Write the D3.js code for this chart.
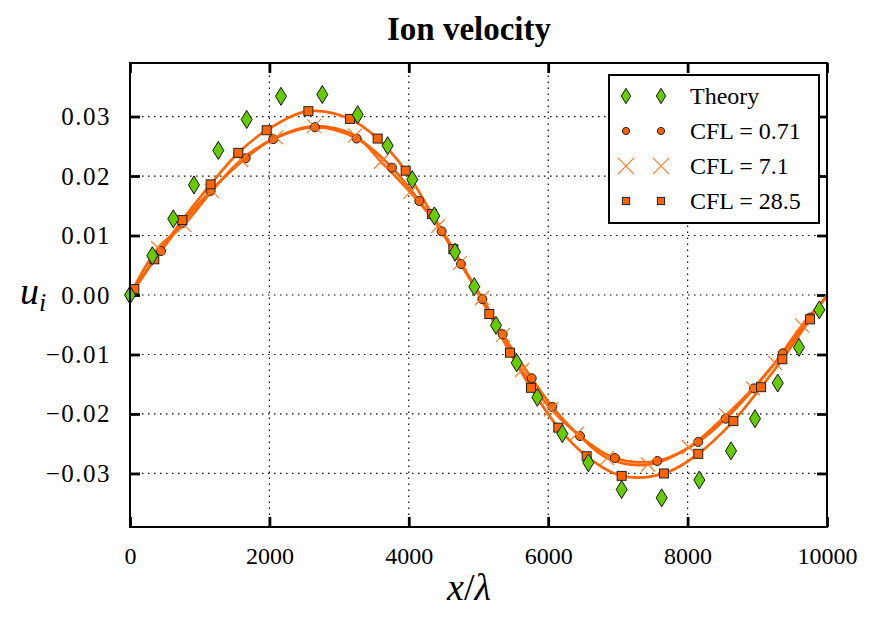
<!DOCTYPE html>
<html>
<head>
<meta charset="utf-8">
<script src="https://cdnjs.cloudflare.com/ajax/libs/d3/7.8.5/d3.min.js"></script>
<style>
  body { margin: 0; background: #fff; }
  svg { display: block; font-family: "Liberation Serif", "DejaVu Serif", serif; }
</style>
</head>
<body>
<script>
// values
var theoryX = [0, 320, 621, 918, 1267, 1674, 2166, 2759, 3267, 3697, 4050, 4366, 4663, 4940, 5251, 5548, 5844, 6203, 6576, 7054, 7628, 8168, 8623, 8967, 9293, 9598, 9890];
var theoryU = [0.0000, 0.0066, 0.0128, 0.0185, 0.0243, 0.0295, 0.0334, 0.0337, 0.0303, 0.0251, 0.0194, 0.0133, 0.0072, 0.0014, -0.0051, -0.0114, -0.0172, -0.0233, -0.0282, -0.0327, -0.0341, -0.0311, -0.0262, -0.0208, -0.0148, -0.0088, -0.0025];

var cfl071X = [0, 445, 751, 1157, 1660, 2056, 2654, 3252, 3759, 4151, 4472, 4749, 5055, 5347, 5763, 6059, 6456, 6958, 7565, 8153, 8546, 8953, 9364, 9756, 10000];
var cfl071U = [0.0000, 0.0074, 0.0121, 0.0175, 0.0230, 0.0262, 0.0282, 0.0263, 0.0214, 0.0158, 0.0107, 0.0052, -0.0007, -0.0066, -0.0140, -0.0188, -0.0237, -0.0274, -0.0279, -0.0247, -0.0208, -0.0157, -0.0098, -0.0038, -0.0002];

var cfl71X = [0, 402, 775, 1176, 1593, 2095, 2640, 3228, 3601, 4017, 4420, 4735, 5050, 5352, 5624, 6040, 6413, 6844, 7432, 8020, 8551, 8938, 9254, 9641, 10000];
var cfl71U = [0.0000, 0.0079, 0.0118, 0.0175, 0.0227, 0.0265, 0.0284, 0.0268, 0.0224, 0.0173, 0.0116, 0.0054, -0.0005, -0.0067, -0.0126, -0.0192, -0.0233, -0.0274, -0.0285, -0.0256, -0.0202, -0.0157, -0.0114, -0.0051, -0.0002];

var cfl285X = [0, 62, 349, 751, 1157, 1554, 1961, 2559, 3156, 3553, 3955, 4333, 4639, 5155, 5452, 5753, 6145, 6552, 7054, 7661, 8153, 8656, 9053, 9359, 9756, 10000];
var cfl285U = [0.0000, 0.0010, 0.0060, 0.0126, 0.0186, 0.0239, 0.0277, 0.0309, 0.0296, 0.0263, 0.0209, 0.0136, 0.0077, -0.0032, -0.0097, -0.0156, -0.0223, -0.0271, -0.0304, -0.0300, -0.0267, -0.0212, -0.0155, -0.0108, -0.0041, 0.0000];

var xTicks = [0, 2000, 4000, 6000, 8000, 10000];
var yTicks = [-0.03, -0.02, -0.01, 0.00, 0.01, 0.02, 0.03];
var legendLabels = ["Theory", "CFL = 0.71", "CFL = 7.1", "CFL = 28.5"];

var W = 877, H = 626;
var orange = "#ff6400", green = "#66cc00";

var x = d3.scaleLinear().domain([0, 10000]).range([130, 827]);
var y = d3.scaleLinear().domain([-0.039, 0.039]).range([527, 63]);

var svg = d3.select("body").append("svg")
    .attr("width", W).attr("height", H);

// grid
var grid = svg.append("g").attr("stroke", "#000").attr("stroke-width", 1.2)
    .attr("stroke-dasharray", "1.5,4.5");
grid.selectAll("line.gx").data(xTicks.slice(1, -1)).enter().append("line")
    .attr("x1", d => x(d)).attr("x2", d => x(d))
    .attr("y1", y.range()[0]).attr("y2", y.range()[1]);
grid.selectAll("line.gy").data(yTicks).enter().append("line")
    .attr("y1", d => y(d)).attr("y2", d => y(d))
    .attr("x1", x.range()[0]).attr("x2", x.range()[1]);

// axes (ticks pointing inwards, on all four sides)
function styleAxis(g) {
  g.select(".domain").remove();
  g.selectAll(".tick line").attr("stroke", "#000").attr("stroke-width", 2.8);
  g.selectAll(".tick text").attr("font-family", "Liberation Serif").attr("font-size", 24).attr("fill", "#000");
}
var fmtY = d => d3.format(".2f")(d).replace("-", "\u2212");

svg.append("g").attr("transform", "translate(0," + y.range()[0] + ")")
  .call(d3.axisBottom(x).tickValues(xTicks).tickFormat(d3.format("d")).tickSizeInner(-10).tickPadding(20))
  .call(styleAxis);
svg.append("g").attr("transform", "translate(0," + y.range()[1] + ")")
  .call(d3.axisTop(x).tickValues(xTicks).tickFormat("").tickSizeInner(-10))
  .call(styleAxis);
svg.append("g").attr("transform", "translate(" + x.range()[0] + ",0)")
  .call(d3.axisLeft(y).tickValues(yTicks).tickFormat(fmtY).tickSizeInner(-10).tickPadding(19))
  .call(styleAxis)
  .call(g => g.selectAll(".tick text").attr("font-size", 25).attr("letter-spacing", 1.5));
svg.append("g").attr("transform", "translate(" + x.range()[1] + ",0)")
  .call(d3.axisRight(y).tickValues(yTicks).tickFormat("").tickSizeInner(-10))
  .call(styleAxis);

// series
var series = [
  {name: "cfl071", xs: cfl071X, us: cfl071U, marker: "circle"},
  {name: "cfl71", xs: cfl71X, us: cfl71U, marker: "cross"},
  {name: "cfl285", xs: cfl285X, us: cfl285U, marker: "square"}
];

var plot = svg.append("g");
var line = d3.line().x(d => x(d[0])).y(d => y(d[1])).curve(d3.curveCatmullRom.alpha(0.5));

series.forEach(function(s) {
  var pts = s.xs.map((v, i) => [v, s.us[i]]);
  plot.append("path").datum(pts)
    .attr("d", line).attr("fill", "none")
    .attr("stroke", orange).attr("stroke-width", 2.7);
});

function drawMarker(g, kind, cx, cy, sc) {
  sc = sc || 1;
  if (kind === "circle") {
    g.append("circle").attr("cx", cx).attr("cy", cy).attr("r", 4.5 * sc)
      .attr("fill", orange).attr("stroke", "#222").attr("stroke-width", 1);
  } else if (kind === "square") {
    var s = 9 * sc;
    g.append("rect").attr("x", cx - s / 2).attr("y", cy - s / 2).attr("width", s).attr("height", s)
      .attr("fill", orange).attr("stroke", "#222").attr("stroke-width", 1);
  } else if (kind === "cross") {
    var c = 7 * sc;
    g.append("path").attr("d", "M" + (cx - c) + "," + (cy - c) + "L" + (cx + c) + "," + (cy + c) +
        "M" + (cx - c) + "," + (cy + c) + "L" + (cx + c) + "," + (cy - c))
      .attr("stroke", "#ff7a26").attr("stroke-width", 1.2).attr("fill", "none");
  } else if (kind === "diamond") {
    var w = 5.5 * sc, h = 9 * sc;
    g.append("path").attr("d", "M" + cx + "," + (cy - h) + "L" + (cx + w) + "," + cy + "L" + cx + "," + (cy + h) + "L" + (cx - w) + "," + cy + "Z")
      .attr("fill", green).attr("stroke", "#111").attr("stroke-width", 1);
  }
}

var markers = plot.append("g");
series.forEach(function(s) {
  s.xs.forEach(function(v, i) {
    if (v > 0 && v < 10000) drawMarker(markers, s.marker, x(v), y(s.us[i]));
  });
});
theoryX.forEach(function(v, i) {
  drawMarker(markers, "diamond", x(v), y(theoryU[i]));
});

// frame
svg.append("rect")
  .attr("x", x.range()[0]).attr("y", y.range()[1])
  .attr("width", x.range()[1] - x.range()[0]).attr("height", y.range()[0] - y.range()[1])
  .attr("fill", "none").attr("stroke", "#000").attr("stroke-width", 2);

// legend
var leg = svg.append("g");
leg.append("rect").attr("x", 609).attr("y", 75).attr("width", 210).attr("height", 148)
  .attr("fill", "#fff").attr("stroke", "#000").attr("stroke-width", 2);
var legKinds = ["diamond", "circle", "cross", "square"];
legendLabels.forEach(function(lbl, i) {
  var ly = 96 + i * 35;
  var sc = legKinds[i] === "cross" ? 1.15 : (legKinds[i] === "diamond" ? 0.85 : 0.8);
  drawMarker(leg, legKinds[i], 626, ly, sc);
  drawMarker(leg, legKinds[i], 661, ly, sc);
  leg.append("text").attr("x", 690).attr("y", ly).attr("dy", "0.35em")
    .attr("font-size", 24).text(lbl);
});

// title and labels
svg.append("text").attr("x", 469).attr("y", 40).attr("text-anchor", "middle")
  .attr("font-size", 33).attr("font-weight", "bold").text("Ion velocity");

var xl = svg.append("text").attr("x", 469).attr("y", 600).attr("text-anchor", "middle").attr("font-size", 38);
xl.append("tspan").attr("font-style", "italic").text("x");
xl.append("tspan").text("/");
xl.append("tspan").attr("font-style", "italic").text("\u03bb");

var yl = svg.append("text").attr("x", 33).attr("y", 304).attr("text-anchor", "middle").attr("font-size", 38);
yl.append("tspan").attr("font-style", "italic").text("u");
yl.append("tspan").attr("font-style", "italic").attr("font-size", 26).attr("dy", 7).text("i");
</script>
</body>
</html>
